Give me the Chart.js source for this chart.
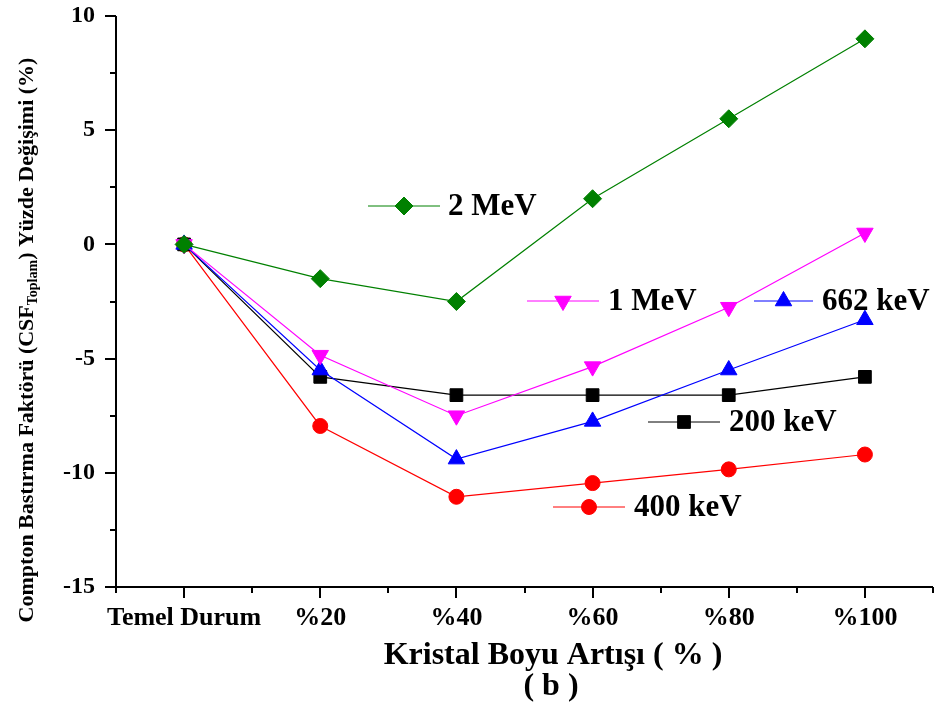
<!DOCTYPE html>
<html>
<head>
<meta charset="utf-8">
<script src="https://cdn.jsdelivr.net/npm/chart.js@4"></script>
<style>
  html, body { margin: 0; padding: 0; background: #fff; }
  #wrap { width: 937px; height: 709px; position: relative; }
</style>
</head>
<body>
<div id="wrap"><canvas id="chart" width="937" height="709"></canvas></div>
<script>
// Compton suppression factor change vs crystal length increase
const categories = ['Temel Durum', '%20', '%40', '%60', '%80', '%100'];
const yTicksMajor = [-15, -10, -5, 0, 5, 10];

const series2MeV = [0, -1.5, -2.5, 2.0, 5.5, 9.0];
const series1MeV = [0, -4.85, -7.5, -5.35, -2.75, 0.5];
const series662keV = [0, -5.5, -9.4, -7.75, -5.5, -3.3];
const series200keV = [0, -5.8, -6.6, -6.6, -6.6, -5.8];
const series400keV = [0, -7.95, -11.05, -10.45, -9.85, -9.2];

const seriesNames = ['2 MeV', '1 MeV', '662 keV', '200 keV', '400 keV'];

const SERIF = '"Liberation Serif", "Times New Roman", serif';

function makeSet(label, data, color, style, radius, rotation) {
	return {
		label: label,
		data: data,
		borderColor: color,
		backgroundColor: color,
		borderWidth: 1.2,
		pointStyle: style,
		pointRadius: radius,
		pointHoverRadius: radius,
		pointRotation: rotation || 0,
		pointBorderWidth: 1,
		pointBorderColor: color,
		pointBackgroundColor: color,
		tension: 0,
		clip: false
	};
}

// legend placement inside the plot (pixel spots)
const legendSpots = [
	{ x1: 368, x2: 440, y: 206, tx: 448 },
	{ x1: 527, x2: 599, y: 301, tx: 608 },
	{ x1: 754, x2: 813, y: 301, tx: 822 },
	{ x1: 648, x2: 720, y: 422, tx: 729 },
	{ x1: 553, x2: 625, y: 507, tx: 634 }
];

function noPad(s) {
	s.paddingTop = 0;
	s.paddingBottom = 0;
	s.paddingLeft = 0;
	s.paddingRight = 0;
}

const axesPlugin = {
	id: 'axesPlugin',
	afterDraw(chart) {
		const ctx = chart.ctx;
		const ca = chart.chartArea;
		const xs = chart.scales.x;
		const ys = chart.scales.y;
		ctx.save();
		ctx.strokeStyle = '#000';
		ctx.lineWidth = 2;
		ctx.beginPath();
		ctx.moveTo(ca.left, ca.top);
		ctx.lineTo(ca.left, ca.bottom + 1);
		ctx.moveTo(ca.left - 1, ca.bottom);
		ctx.lineTo(ca.right, ca.bottom);
		ctx.stroke();

		// y ticks: major every 5, minor in between
		ctx.lineWidth = 2;
		ctx.beginPath();
		for (let v = -15; v <= 10; v += 2.5) {
			const py = Math.round(ys.getPixelForValue(v));
			const len = (v % 5 === 0) ? 11 : 6;
			ctx.moveTo(ca.left, py);
			ctx.lineTo(ca.left - len, py);
		}
		// x ticks: major at categories, minor between and at ends
		const step = xs.getPixelForValue(1) - xs.getPixelForValue(0);
		for (let i = 0; i < categories.length; i++) {
			const px = Math.round(xs.getPixelForValue(i));
			ctx.moveTo(px, ca.bottom);
			ctx.lineTo(px, ca.bottom + 11);
			const hx = Math.round(px - step / 2);
			ctx.moveTo(hx, ca.bottom);
			ctx.lineTo(hx, ca.bottom + 6);
		}
		const lastHalf = Math.round(xs.getPixelForValue(categories.length - 1) + step / 2);
		ctx.moveTo(lastHalf, ca.bottom);
		ctx.lineTo(lastHalf, ca.bottom + 6);
		ctx.stroke();

		// x title and panel tag
		ctx.fillStyle = '#000';
		ctx.textAlign = 'center';
		ctx.textBaseline = 'alphabetic';
		ctx.font = 'bold 32px ' + SERIF;
		ctx.fillText('Kristal Boyu Artışı ( % )', 553, 664);
		ctx.fillText('( b )', 551, 695);

		// y title, rotated, with subscript
		const partA = 'Compton Bastırma Faktörü (CSF';
		const partSub = 'Toplam';
		const partB = ') Yüzde Değişimi (%)';
		const mainFont = 'bold 22px ' + SERIF;
		const subFont = 'bold 14px ' + SERIF;
		ctx.font = mainFont;
		const wA = ctx.measureText(partA).width;
		const wB = ctx.measureText(partB).width;
		ctx.font = subFont;
		const wS = ctx.measureText(partSub).width;
		const total = wA + wS + wB;
		ctx.translate(33, 340);
		ctx.rotate(-Math.PI / 2);
		ctx.textAlign = 'left';
		let cx = -total / 2;
		ctx.font = mainFont;
		ctx.fillText(partA, cx, 0);
		cx += wA;
		ctx.font = subFont;
		ctx.fillText(partSub, cx, 4);
		cx += wS;
		ctx.font = mainFont;
		ctx.fillText(partB, cx, 0);
		ctx.restore();

		// in-plot legend entries
		ctx.save();
		chart.data.datasets.forEach((ds, i) => {
			const s = legendSpots[i];
			ctx.strokeStyle = ds.borderColor;
			ctx.lineWidth = 1;
			ctx.beginPath();
			ctx.moveTo(s.x1, s.y);
			ctx.lineTo(s.x2, s.y);
			ctx.stroke();
			ctx.fillStyle = ds.backgroundColor;
			ctx.lineWidth = 1;
			if (window.Chart && Chart.helpers && Chart.helpers.drawPoint) {
				Chart.helpers.drawPoint(ctx, {
					pointStyle: ds.pointStyle,
					radius: ds.pointRadius,
					rotation: ds.pointRotation,
					borderWidth: 1
				}, (s.x1 + s.x2) / 2, s.y);
			}
			ctx.fillStyle = '#000';
			ctx.font = 'bold 31px ' + SERIF;
			ctx.textAlign = 'left';
			ctx.textBaseline = 'middle';
			ctx.fillText(seriesNames[i], s.tx, s.y + 1);
		});
		ctx.restore();
	}
};

document.addEventListener('DOMContentLoaded', () => {
	const ctx = document.getElementById('chart');
	if (!(window.Chart)) return;

	new Chart(ctx, {
		type: 'line',
		data: {
			labels: categories,
			datasets: [
				makeSet(seriesNames[0], series2MeV, '#008000', 'rectRot', 9),
				makeSet(seriesNames[1], series1MeV, '#ff00ff', 'triangle', 9.5, 180),
				makeSet(seriesNames[2], series662keV, '#0000ff', 'triangle', 9.5),
				makeSet(seriesNames[3], series200keV, '#000000', 'rect', 9),
				makeSet(seriesNames[4], series400keV, '#ff0000', 'circle', 7.5)
			]
		},
		options: {
			responsive: false,
			animation: false,
			events: [],
			layout: { autoPadding: false, padding: { left: 0, right: 4, top: 16, bottom: 0 } },
			plugins: {
				legend: { display: false },
				tooltip: { enabled: false }
			},
			scales: {
				x: {
					type: 'category',
					offset: true,
					grid: { display: false, drawTicks: false },
					border: { display: false },
					ticks: {
						autoSkip: false,
						maxRotation: 0,
						padding: 16,
						color: '#000',
						font: { family: SERIF, size: 26, weight: 'bold' }
					},
					afterFit: s => { s.height = 122; noPad(s); }
				},
				y: {
					type: 'linear',
					min: -15,
					max: 10,
					grid: { display: false, drawTicks: false },
					border: { display: false },
					ticks: {
						stepSize: 2.5,
						padding: 21,
						color: '#000',
						font: { family: SERIF, size: 24, weight: 'bold' },
						callback: v => (yTicksMajor.includes(v) ? String(v) : '')
					},
					afterFit: s => { s.width = 116; noPad(s); }
				}
			}
		},
		plugins: [axesPlugin]
	});
});
</script>
</body>
</html>
